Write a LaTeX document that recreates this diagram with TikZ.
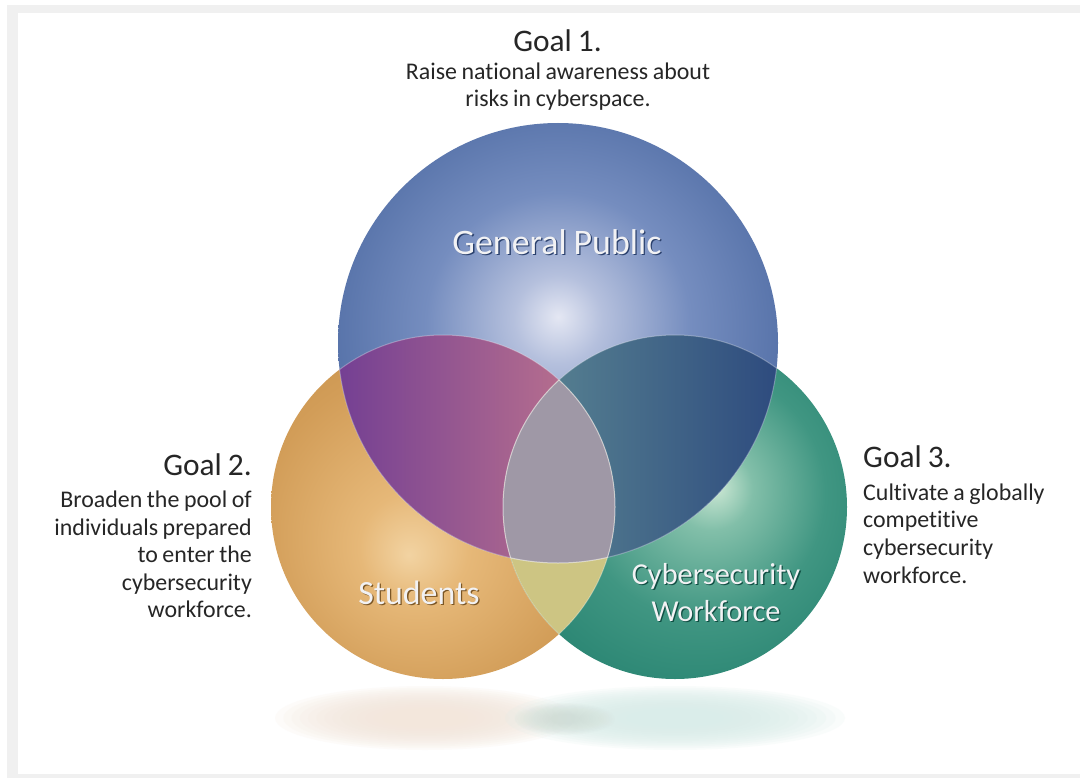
\documentclass[tikz,border=0pt]{standalone}
\usepackage{fontspec}
\setmainfont[WordSpace=0.85, Ligatures=NoCommon]{Carlito}
\definecolor{frameG}{HTML}{F0F0F0}
\definecolor{txt}{HTML}{262626}
\definecolor{b0}{HTML}{E4E7F3}
\definecolor{b1}{HTML}{B5C0DD}
\definecolor{b2}{HTML}{758DBF}
\definecolor{b3}{HTML}{4E6BA3}
\definecolor{b4}{HTML}{3D5B91}
\definecolor{b5}{HTML}{345088}
\definecolor{o0}{HTML}{F2D3A2}
\definecolor{o1}{HTML}{E6B878}
\definecolor{o2}{HTML}{D29D58}
\definecolor{o3}{HTML}{C08A42}
\definecolor{o4}{HTML}{B07B35}
\definecolor{g0}{HTML}{CCE8D4}
\definecolor{g1}{HTML}{82BFA9}
\definecolor{g2}{HTML}{409682}
\definecolor{g3}{HTML}{23806E}
\definecolor{g4}{HTML}{176F5F}
\definecolor{p1}{HTML}{733F93}
\definecolor{p2}{HTML}{B66E8E}
\definecolor{t1}{HTML}{557F90}
\definecolor{t2}{HTML}{2D4A7E}
\definecolor{y1}{HTML}{CDC583}
\definecolor{c1}{HTML}{9F98A6}
\definecolor{shO}{HTML}{F3E7DC}
\definecolor{shG}{HTML}{D9EDEA}
\definecolor{shD}{HTML}{CFDCD3}
\definecolor{lblc}{HTML}{F2F2F4}
\pgfdeclareradialshading{blueball}{\pgfpoint{0bp}{3bp}}{color(0bp)=(b0); color(5bp)=(b1); color(15bp)=(b2); color(29bp)=(b3); color(42bp)=(b4); color(50bp)=(b5)}
\pgfdeclareradialshading{orangeball}{\pgfpoint{-5bp}{-7bp}}{color(0bp)=(o0); color(8bp)=(o1); color(24bp)=(o2); color(40bp)=(o3); color(50bp)=(o4)}
\pgfdeclareradialshading{greenball}{\pgfpoint{6bp}{3bp}}{color(0bp)=(g0); color(6bp)=(g1); color(18bp)=(g2); color(33bp)=(g3); color(50bp)=(g4)}
\newcommand{\shadowtext}[2]{\rlap{\hspace{1.3pt}\raisebox{-1.3pt}{\color{#1}#2}}#2}
\newcommand{\softellipse}[6]{% color, x, y, rx, ry, opacity step
  \foreach \k in {0,...,13}{
    \fill[#1, opacity=#6] (#2,#3) ellipse [x radius={#4*(1-\k*0.055)*1bp}, y radius={#5*(1-\k*0.055)*1bp}];
  }}
\tikzset{
  goalt/.style={font=\fontsize{31.5}{34}\selectfont, text=txt, inner sep=0pt},
  goalb/.style={font=\fontsize{24}{27.7}\selectfont, text=txt, inner sep=0pt},
  lbl/.style={text=lblc, inner sep=0pt},
  rim/.style={draw=white, draw opacity=0.3, line width=1bp}
}
\begin{document}
\begin{tikzpicture}[x=1bp,y=-1bp]
\useasboundingbox (0,0) rectangle (1080,778);
\fill[frameG] (7,5) rectangle (1080,778);
\fill[white] (18,13) rectangle (1080,774);
% coordinates
\coordinate (B) at (558,343);
\coordinate (O) at (443,507);
\coordinate (G) at (675,507);
% ground shadows
\softellipse{shO}{425}{718}{150}{32}{0.15}
\softellipse{shG}{675}{718}{170}{32}{0.15}
\softellipse{shD}{565}{719}{50}{16}{0.07}
% circles
\shade[shading=orangeball] (O) circle [radius=172bp];
\shade[shading=greenball] (G) circle [radius=172bp];
\shade[shading=blueball] (B) circle [radius=220bp];
% overlaps
\begin{scope}
  \clip (B) circle [radius=220bp];
  \clip (O) circle [radius=172bp];
  \shade[left color=p1, right color=p2] (335,330) rectangle (565,600);
\end{scope}
\begin{scope}
  \clip (B) circle [radius=220bp];
  \clip (G) circle [radius=172bp];
  \shade[left color=t1, right color=t2] (550,330) rectangle (782,600);
\end{scope}
\begin{scope}
  \clip (O) circle [radius=172bp];
  \clip (G) circle [radius=172bp];
  \fill[y1] (490,330) rectangle (630,700);
\end{scope}
\begin{scope}
  \clip (B) circle [radius=220bp];
  \clip (O) circle [radius=172bp];
  \clip (G) circle [radius=172bp];
  \fill[c1] (490,330) rectangle (630,700);
\end{scope}
% rims
\begin{scope}
  \clip (B) circle [radius=220bp];
  \draw[rim] (O) circle [radius=172bp];
  \draw[rim] (G) circle [radius=172bp];
\end{scope}
\begin{scope}
  \clip (O) circle [radius=172bp];
  \draw[rim] (B) circle [radius=220bp];
  \draw[rim] (G) circle [radius=172bp];
\end{scope}
\begin{scope}
  \clip (G) circle [radius=172bp];
  \draw[rim] (B) circle [radius=220bp];
  \draw[rim] (O) circle [radius=172bp];
\end{scope}
% circle labels
\node[lbl, font=\fontsize{36}{40}\selectfont, anchor=base] (gp) at (557,254) {\shadowtext{b5!80!black}{General Public}};
\node[lbl, font=\fontsize{34}{38}\selectfont, anchor=base] (st) at (419,604) {\shadowtext{o4!70!black}{Students}};
\node[lbl, font=\fontsize{30.5}{37}\selectfont, anchor=base, align=center] (cw) at (716,621) {\shadowtext{g4!70!black}{Cybersecurity}\\\shadowtext{g4!70!black}{Workforce}};
% goals (multi-line nodes are anchored at their last line)
\node[goalt, anchor=base] (g1t) at (557.5,52) {Goal 1.};
\node[goalb, anchor=base, align=center] (g1b) at (558,107) {Raise national awareness about\\risks in cyberspace.};
\node[goalt, anchor=base east] (g2t) at (252,475) {Goal 2.};
\node[goalb, anchor=base east, align=right] (g2b) at (252,617.8) {Broaden the pool of\\individuals prepared\\to enter the\\cybersecurity\\workforce.};
\node[goalt, anchor=base west] (g3t) at (863,467) {Goal 3.};
\node[goalb, anchor=base west, align=left] (g3b) at (863,583) {Cultivate a globally\\competitive\\cybersecurity\\workforce.};
\end{tikzpicture}
\end{document}
